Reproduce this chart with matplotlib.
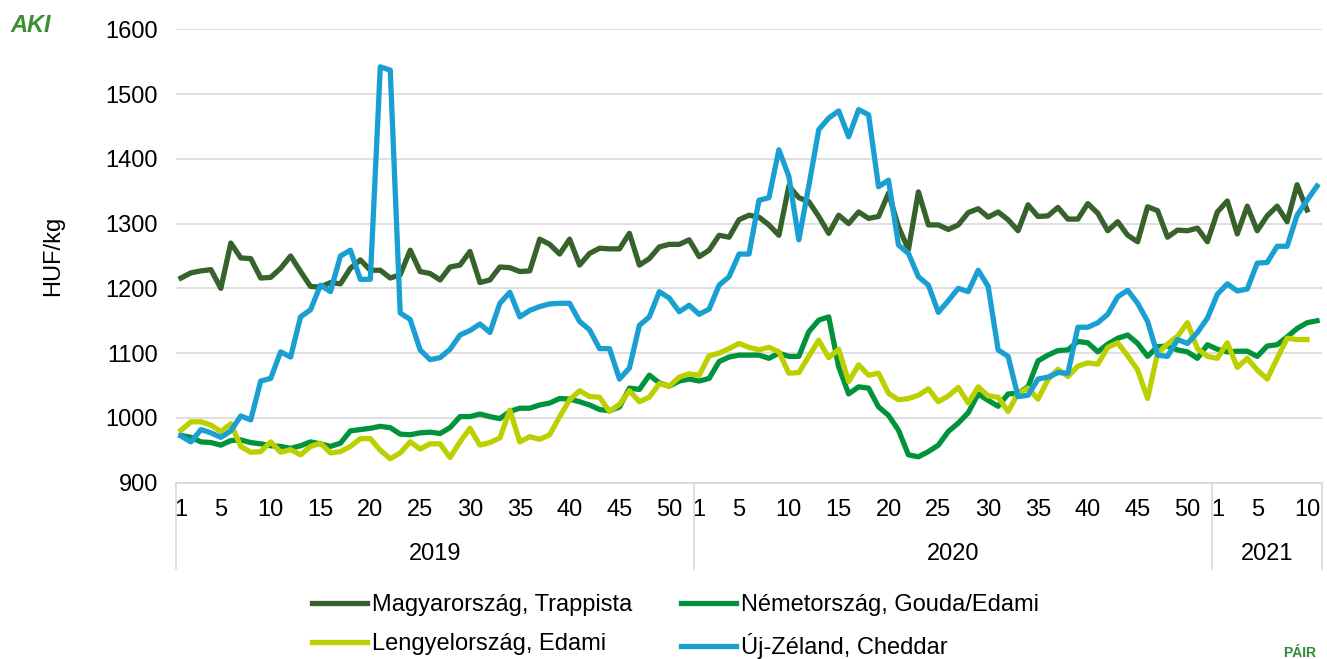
import numpy as np
import matplotlib
matplotlib.use("Agg")
import matplotlib.pyplot as plt
from matplotlib.transforms import blended_transform_factory
from matplotlib.lines import Line2D

plt.rcParams['font.family'] = ['Liberation Sans', 'DejaVu Sans']

# weekly cheese prices, HUF/kg (2019 wk1 .. 2021 wk11)
years = ["2019", "2020", "2021"]
weeks_per_year = [52, 52, 11]
shown_weeks = [1, 5, 10, 15, 20, 25, 30, 35, 40, 45, 50]

magyar = [1216, 1224, 1227, 1229, 1200, 1270, 1247, 1246, 1216, 1217,
          1231, 1250, 1226, 1203, 1202, 1209, 1207, 1231, 1244, 1228,
          1228, 1216, 1221, 1259, 1226, 1223, 1213, 1233, 1236, 1257,
          1209, 1213, 1233, 1232, 1226, 1227, 1276, 1268, 1253, 1276,
          1236, 1254, 1262, 1261, 1261, 1285, 1236, 1246, 1264, 1268,
          1268, 1275,
          1249, 1259, 1282, 1279, 1306, 1313, 1310, 1298, 1282, 1358,
          1340, 1334, 1311, 1285, 1313, 1300, 1318, 1308, 1311, 1347,
          1295, 1260, 1349, 1298, 1298, 1291, 1298, 1317, 1323, 1310,
          1318, 1306, 1289, 1329, 1311, 1312, 1325, 1307, 1307, 1331,
          1316, 1289, 1303, 1282, 1272, 1326, 1320, 1279, 1290, 1289,
          1293, 1272,
          1318, 1335, 1284, 1327, 1289, 1312, 1327, 1303, 1360, 1321, np.nan]

nemet = [973, 970, 963, 962, 958, 965, 966, 962, 960, 957,
         956, 953, 957, 963, 960, 956, 961, 980, 982, 984,
         987, 985, 975, 974, 977, 978, 976, 985, 1002, 1002,
         1006, 1002, 999, 1010, 1015, 1015, 1020, 1023, 1030, 1029,
         1025, 1020, 1013, 1011, 1017, 1046, 1044, 1066, 1054, 1049,
         1057, 1060,
         1057, 1061, 1087, 1094, 1097, 1097, 1097, 1092, 1100, 1095,
         1095, 1133, 1151, 1156, 1079, 1037, 1048, 1046, 1017, 1004,
         981, 943, 940, 948, 958, 979, 992, 1008, 1037, 1027,
         1018, 1037, 1038, 1048, 1088, 1097, 1104, 1105, 1118, 1116,
         1102, 1114, 1123, 1128, 1115, 1095, 1110, 1111, 1105, 1102,
         1092, 1113,
         1106, 1102, 1103, 1103, 1095, 1111, 1113, 1125, 1138, 1147, 1150]

lengyel = [981, 994, 994, 989, 979, 991, 956, 947, 948, 963,
           947, 951, 943, 956, 961, 946, 948, 956, 968, 968,
           950, 937, 946, 963, 952, 960, 960, 939, 963, 984,
           958, 962, 969, 1012, 963, 971, 967, 974, 1002, 1028,
           1042, 1033, 1032, 1010, 1021, 1042, 1025, 1032, 1053, 1049,
           1063, 1068,
           1066, 1096, 1100, 1107, 1115, 1109, 1105, 1109, 1102, 1069,
           1070, 1095, 1120, 1093, 1106, 1056, 1082, 1066, 1069, 1038,
           1028, 1030, 1035, 1045, 1025, 1034, 1047, 1023, 1048, 1034,
           1032, 1010, 1038, 1046, 1029, 1059, 1075, 1064, 1080, 1085,
           1083, 1109, 1116, 1096, 1074, 1030, 1100, 1114, 1126, 1147,
           1107, 1095,
           1092, 1116, 1078, 1092, 1074, 1060, 1092, 1123, 1121, 1121, np.nan]

ujzeland = [972, 963, 982, 977, 970, 980, 1003, 997, 1057, 1061,
            1102, 1094, 1156, 1167, 1205, 1195, 1250, 1259, 1214, 1214,
            1542, 1537, 1162, 1152, 1105, 1090, 1093, 1106, 1128, 1135,
            1145, 1132, 1177, 1194, 1156, 1166, 1172, 1176, 1177, 1177,
            1149, 1136, 1107, 1107, 1060, 1077, 1143, 1156, 1195, 1185,
            1164, 1174,
            1160, 1168, 1205, 1218, 1253, 1253, 1336, 1340, 1414, 1373,
            1275, 1358, 1445, 1463, 1474, 1434, 1476, 1468, 1357, 1367,
            1267, 1254, 1218, 1205, 1163, 1181, 1200, 1195, 1228, 1203,
            1105, 1095, 1033, 1035, 1060, 1063, 1070, 1069, 1140, 1140,
            1147, 1160, 1187, 1197, 1177, 1149, 1097, 1095, 1121, 1115,
            1132, 1154,
            1191, 1207, 1196, 1199, 1239, 1240, 1265, 1265, 1313, 1336, 1358]

series = [
    ("Magyarország, Trappista", magyar, "#37622B"),
    ("Németország, Gouda/Edami", nemet, "#00933B"),
    ("Lengyelország, Edami", lengyel, "#BCD000"),
    ("Új-Zéland, Cheddar", ujzeland, "#1A9FD3"),
]

FS = 17
W, H = 1327, 659
fig = plt.figure(figsize=(W / 100, H / 100), dpi=100)
ax = fig.add_axes([176 / W, 1 - 482.7 / H, 1146 / W, 453.4 / H])

x = np.arange(len(magyar))
handles = {}
for name, vals, col in series:
    ln, = ax.plot(x, vals, color=col, lw=3.8, label=name, solid_joinstyle="round")
    handles[name] = ln

ax.set_xlim(-0.5, len(magyar) - 0.5)
ax.set_ylim(900, 1600)
ax.set_yticks(np.arange(900, 1601, 100))
ax.yaxis.grid(True, color="#D9D9D9", lw=1.2)
ax.set_axisbelow(True)
for s in ["top", "right", "left"]:
    ax.spines[s].set_visible(False)
ax.spines["bottom"].set_color("#D9D9D9")
ax.spines["bottom"].set_linewidth(1.2)

# multi-level category axis
offsets = np.cumsum([0] + weeks_per_year[:-1])
tick_pos, tick_lab = [], []
for off, n in zip(offsets, weeks_per_year):
    for w in shown_weeks:
        if w <= n:
            tick_pos.append(off + w - 1)
            tick_lab.append(str(w))
ax.set_xticks(tick_pos)
ax.set_xticklabels(tick_lab)
ax.tick_params(axis="both", length=0, labelsize=FS, colors="black")
ax.tick_params(axis="x", pad=12)
ax.tick_params(axis="y", pad=13)

trans = blended_transform_factory(ax.transData, ax.transAxes)
edges = [-0.5] + [off + n - 0.5 for off, n in zip(offsets, weeks_per_year)]
for e in edges:
    ax.add_line(Line2D([e, e], [0, -0.19], transform=trans, color="#D9D9D9",
                       lw=1.2, clip_on=False))
for off, n, yr in zip(offsets, weeks_per_year, years):
    ax.text(off + (n - 1) / 2, -0.157, yr, transform=trans, ha="center",
            va="center", fontsize=FS)

ax.set_ylabel("HUF/kg", fontsize=FS)
ax.yaxis.set_label_coords(-0.098, 0.5)

order = ["Magyarország, Trappista", "Lengyelország, Edami",
         "Németország, Gouda/Edami", "Új-Zéland, Cheddar"]
fig.legend([handles[n] for n in order], order, ncol=2, loc="upper left",
           bbox_to_anchor=(312 / W, 1 - 594 / H), frameon=False, fontsize=FS,
           handlelength=2.35, handletextpad=0.2, columnspacing=2.05,
           labelspacing=0.73, borderpad=0, borderaxespad=0)

fig.text(10 / W, 1 - 25 / H, "AKI", color="#3A8F2E", fontsize=17,
         weight="bold", style="italic", va="center")
fig.text(1283 / W, 1 - 646 / H, "PÁIR", color="#2E8B3A", fontsize=10,
         weight="bold", va="top")

fig.savefig("out.png", dpi=100)
